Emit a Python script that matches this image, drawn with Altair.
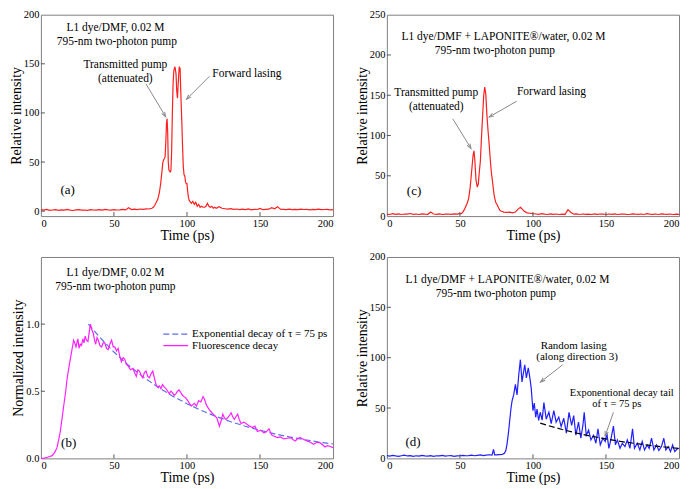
import math
import altair as alt
import pandas as pd

FONT = "Liberation Serif"
W, H = 293, 202
X_DOMAIN = [0, 200]
X_TICKS = [0, 50, 100, 150, 200]
GRAY = "#8a8a8a"

# ---------------- Panel (a): L1 dye/DMF, red ----------------
a_t_base = list(range(0, 76, 2))
a_v_base = [1.5, 1.0, 1.8, 0.8, 1.2, 1.6, 0.9, 1.4, 1.0, 1.8,
            1.1, 0.7, 1.3, 1.6, 1.0, 1.2, 0.8, 1.5, 1.2, 1.0,
            1.6, 1.1, 1.8, 1.3, 1.0, 1.5, 1.2, 1.4, 1.8, 1.3,
            3.5, 1.6, 2.0, 1.5, 2.2, 1.8, 2.4, 2.2]
a_t_peak = [76, 77, 78, 79, 80, 81, 82, 83, 83.5, 84,
            85, 85.5, 86, 86.4, 86.8, 87.2, 87.6, 88, 88.5, 89,
            89.5, 90, 90.5, 91, 91.8, 92.5, 93, 93.5, 94, 94.7,
            95.3, 96, 96.5, 97, 97.5, 98, 98.5, 99, 99.5, 100,
            100.5, 101, 101.5, 102, 103, 104, 105, 106, 107, 108,
            109, 110, 111, 112, 113, 114, 115, 116, 117, 118,
            119, 120, 122, 124, 126, 128, 130]
a_v_peak = [3, 4, 6, 9, 12, 18, 28, 42, 50, 52,
            55, 70, 90, 94, 80, 50, 42, 41, 40, 41,
            60, 100, 130, 143, 147, 140, 122, 115, 130, 147,
            145, 110, 90, 65, 45, 37, 36, 30, 28, 28,
            20, 14, 11, 10, 8, 10, 7, 9, 5, 7,
            4, 5, 4, 4, 5, 8, 5, 4, 5, 3,
            4, 3, 4.5, 3, 2.5, 2, 2.5]
a_t_tail = list(range(132, 201, 2))
a_v_tail = [1.8, 2.2, 1.5, 2.0, 1.6, 2.3, 1.4, 1.9, 1.7, 2.8,
            1.5, 1.8, 2.0, 3.6, 2.4, 4.6, 2.0, 1.8, 1.5, 2.0,
            1.6, 1.9, 1.5, 2.0, 1.7, 1.9, 1.4, 1.8, 1.6, 2.0,
            1.5, 1.7, 1.9, 1.4, 1.6]

# ---------------- Panel (c): L1 dye/DMF + LAPONITE, red ----------------
c_t_base = list(range(0, 50, 2))
c_v_base = [2.5, 2.0, 3.0, 2.2, 2.8, 2.0, 2.6, 2.4, 3.2, 2.2,
            2.6, 2.0, 2.8, 2.4, 2.2, 5.0, 2.6, 2.2, 2.8, 2.0,
            2.4, 2.6, 2.2, 2.8, 2.4]
c_t_peak = [50, 51, 52, 53, 54, 55, 56, 57, 58, 59,
            59.6, 60.2, 61, 61.9, 62.6, 63.3, 64, 64.7, 65.5, 66.3,
            67, 67.7, 68.5, 69.3, 70, 70.8, 71.5, 72.5, 73.5, 74.5,
            75.5, 76.5, 77.5, 78.5, 80, 82, 84, 86, 88, 89,
            90, 91.5, 93, 94, 96, 98, 100]
c_v_peak = [3, 3, 5, 8, 12, 16, 22, 35, 55, 75,
            81, 70, 45, 36, 40, 55, 68, 95, 123, 150,
            160, 152, 125, 105, 90, 70, 55, 40, 25, 17,
            14, 10, 7, 6, 5, 4.5, 5, 4, 5, 7,
            9, 11, 8, 6, 4, 3.5, 3]
c_t_tail = list(range(102, 201, 2))
c_v_tail = [2.6, 2.2, 3.0, 2.4, 2.0, 2.8, 2.2, 2.6, 2.0, 2.4,
            2.2, 8.0, 4.5, 2.4, 2.8, 2.0, 2.6, 2.2, 2.4, 2.0,
            2.8, 2.2, 2.6, 2.4, 2.0, 2.6, 2.2, 2.8, 2.0, 2.4,
            2.6, 2.2, 2.0, 2.8, 2.4, 2.2, 2.6, 2.0, 3.0, 2.4,
            2.2, 2.6, 2.0, 2.8, 2.4, 2.2, 2.6, 2.0, 2.4, 2.2]

# ---------------- Panel (b): fluorescence decay, magenta ----------------
b_t = [0, 2, 3.2, 5, 7.7, 9.5, 11, 12, 13.3, 14.5,
       15.6, 17, 17.9, 19.5, 20.8, 22.4, 23.2, 24, 25.3, 26.1,
       26.9, 27.8, 28.7, 29.5, 30.3, 31.2, 32.2, 33.2, 33.9, 34.8,
       35.9, 36.7, 37.5, 38.4, 39.3, 40.4, 41.6, 42.6, 43.8, 44.9,
       46.1, 47.2, 48.4, 49.5, 50.6, 51.8, 52.9, 54, 55.1, 56.3,
       57.4, 58.5, 59.6, 61.3, 63, 64.1, 65.3, 66.4, 67.5, 68.6,
       69.8, 70.9, 72, 73.1, 74.3, 75.4, 76.6, 77.7, 78.8, 80,
       81.1, 82.2, 83.3, 84.5, 85.6, 86.8, 87.9, 89, 90.1, 91.2,
       92.4, 93.5, 94.6, 95.8, 96.9, 98, 99.2, 100.5, 101.7, 103,
       104, 105.1, 106.5, 108, 109.5, 111, 112, 113.2, 114.3, 115.5,
       117, 118.9, 120.5, 122.2, 123.4, 124.5, 125.7, 126.8, 128.5, 130.2,
       131.3, 132.4, 133.5, 134.7, 135.8, 137, 139, 141.5, 143, 144.9,
       146.5, 148.2, 150.5, 152.7, 154.5, 156.2, 157.3, 158.4, 160, 161.8,
       164, 166.3, 168.5, 170.9, 172.5, 174.2, 176, 177.6, 180, 182.1,
       184.5, 186.6, 189, 191.2, 193, 194.5, 196, 197.9, 200]
b_v = [0.0, 0.0, 0.005, 0.01, 0.02, 0.045, 0.08, 0.13, 0.2, 0.3,
       0.39, 0.5, 0.59, 0.7, 0.78, 0.88, 0.86, 0.83, 0.89, 0.82,
       0.85, 0.84, 0.89, 0.86, 0.91, 0.88, 0.87, 0.95, 1.0, 0.96,
       0.93, 0.88, 0.85, 0.9, 0.88, 0.84, 0.83, 0.86, 0.86, 0.82,
       0.81, 0.85, 0.88, 0.83, 0.83, 0.8, 0.82, 0.76, 0.72, 0.75,
       0.74, 0.7, 0.69, 0.66, 0.67, 0.64, 0.61, 0.66, 0.65, 0.62,
       0.6, 0.64, 0.65, 0.61, 0.6, 0.63, 0.65, 0.6, 0.55, 0.53,
       0.54, 0.52, 0.55, 0.53, 0.52, 0.5, 0.48, 0.5, 0.49, 0.47,
       0.48, 0.5, 0.51, 0.49, 0.47, 0.46, 0.45, 0.43, 0.41, 0.39,
       0.4, 0.41, 0.39, 0.43, 0.42, 0.46, 0.44, 0.4, 0.38, 0.36,
       0.34, 0.32, 0.3, 0.24, 0.28, 0.33, 0.3, 0.29, 0.31, 0.34,
       0.31, 0.29, 0.31, 0.33, 0.29, 0.26, 0.27, 0.25, 0.24, 0.23,
       0.24, 0.2, 0.21, 0.19, 0.2, 0.22, 0.19, 0.17, 0.165, 0.155,
       0.16, 0.145, 0.15, 0.155, 0.14, 0.13, 0.15, 0.155, 0.14, 0.13,
       0.12, 0.105, 0.12, 0.115, 0.1, 0.085, 0.095, 0.09, 0.08]
be_t = [32.5, 40, 50, 60, 70, 80, 90, 100, 110, 120, 130, 140, 150, 160, 170, 180, 190, 200]
be_v = [1.0, 0.905, 0.792, 0.693, 0.607, 0.531, 0.465, 0.407, 0.356, 0.312,
        0.273, 0.239, 0.209, 0.183, 0.160, 0.140, 0.122, 0.107]

# ---------------- Panel (d): random lasing, blue ----------------
d_t_base = list(range(0, 73, 2))
d_v_base = [2.8, 2.2, 3.0, 2.4, 2.0, 2.6, 3.2, 2.4, 2.8, 2.0,
            2.6, 2.2, 3.0, 2.4, 2.2, 2.8, 2.0, 2.6, 2.4, 3.0,
            2.2, 2.6, 2.8, 2.0, 2.4, 2.6, 3.0, 2.6, 2.8, 3.2,
            2.6, 3.0, 3.4, 2.8, 3.2, 3.6, 3.2]
d_t_main = [73, 73.8, 75, 77, 79, 80.5, 81.5, 82.3, 83.2, 84.1,
            85, 85.7, 86.8, 88, 89.1, 90.3, 91.4, 92.5, 93.7, 94.4,
            95.5, 96.8, 97.7, 98.8, 100, 100.9, 101.9, 102.8, 103.9, 105,
            106.3, 107.5, 109.1, 110.9, 112.5, 114.3, 115.9, 117.7, 119.3, 121.1,
            122.9, 124.7, 126.5, 127.9, 129.4, 131.2, 132.8, 134.2, 135.1, 136.5,
            138.1, 139.7, 141.5, 143.1, 144.5, 146.1, 147.9, 149.5, 150.6, 152,
            153.3, 155.1, 156.5, 157.8, 159.6, 161.2, 163, 164.6, 166.4, 168.2,
            169.5, 171.4, 173.2, 174.8, 176.4, 178.2, 179.6, 181.2, 182.8, 184.6,
            186.2, 188, 189.6, 191, 192.6, 194.2, 195.6, 197.1, 198.5, 200]
d_v_main = [9, 3.5, 3.4, 3.8, 4, 5, 8, 14.7, 25, 37.6,
            50, 57, 63, 73.5, 63, 83, 98, 76, 86.6, 93,
            80, 90, 82, 70, 47.4, 55, 40.8, 49, 37.6, 45.8,
            38, 55.5, 39, 46, 34.6, 47.4, 36, 41, 31.6, 39.8,
            25, 45.7, 32.7, 42.5, 23, 36, 20, 32.7, 45.7, 23,
            28, 18.3, 23, 15, 29.4, 13.4, 20, 16.7, 24.8, 10,
            18.3, 32, 13.4, 18.3, 10, 15, 11.7, 18.3, 10, 29.4,
            10, 15, 8.4, 16.7, 8.4, 13.4, 10, 20, 8.4, 13.4,
            7.8, 11.7, 20, 8.4, 11.7, 6.7, 13.4, 6.7, 9, 10]
de_t = [105, 110, 120, 130, 140, 150, 160, 170, 180, 190, 200]
de_v = [35, 32.8, 28.7, 25.1, 22.0, 19.3, 16.8, 14.8, 12.9, 11.3, 9.9]

# ---------------- Annotations ----------------
a_texts = [("L1 dye/DMF, 0.02 M", 51, 186, 11.5), ("795-nm two-photon pump", 52, 172.5, 11.5),
           ("Transmitted pump", 57.8, 149, 11.5), ("(attenuated)", 57.8, 135, 11.5),
           ("Forward lasing", 141, 139.7, 11.5), ("(a)", 18.3, 21.8, 13)]
a_arrows = [(71.9, 129.6, 85.4, 96.2), (115.5, 137.4, 99.7, 113.9)]

c_texts = [("L1 dye/DMF + LAPONITE®/water, 0.02 M", 79.8, 222, 11.5),
           ("795-nm two-photon pump", 74, 205, 11.5),
           ("Transmitted pump", 33.8, 152.4, 11.5), ("(attenuated)", 33.8, 136, 11.5),
           ("Forward lasing", 112.7, 153.6, 11.5), ("(c)", 18.6, 30.7, 13)]
c_arrows = [(45.1, 120.8, 57.6, 84), (88.9, 142.6, 70, 123)]

b_texts = [("L1 dye/DMF, 0.02 M", 51, 1.38, 11.5), ("795-nm two-photon pump", 51, 1.277, 11.5),
           ("(b)", 19, 0.115, 13)]
b_legend_texts = [("Exponential decay of τ = 75 ps", 103.5, 0.925, 11), ("Fluorescence decay", 103.5, 0.84, 11)]
b_legend_x = [83.8, 100.8]
b_legend_y = [0.925, 0.84]

d_texts = [("L1 dye/DMF + LAPONITE®/water, 0.02 M", 82.5, 177, 11.5),
           ("795-nm two-photon pump", 74.6, 163.4, 11.5),
           ("Random lasing", 127.9, 112, 11), ("(along direction 3)", 130.2, 100.5, 11),
           ("Exponentional decay tail", 160.8, 64.7, 10.5), ("of  τ = 75 ps", 157.4, 53.6, 10.5),
           ("(d)", 17.9, 16.3, 13)]
d_arrows = [(120.4, 93, 105.2, 75.8), (155.1, 45.7, 149.4, 22.2)]

ARROW_HEAD = "M-0.5,1.4L0,0L0.5,1.4"


def panel(series, ydomain, yticks, ytitle, yfmt, texts, arrows, left_texts=None, legend=None):
    xs = alt.Scale(domain=X_DOMAIN, nice=False, zero=False)
    ys = alt.Scale(domain=ydomain, nice=False, zero=False)
    xax = alt.Axis(title="Time (ps)", values=X_TICKS)
    yax = alt.Axis(title=ytitle, values=yticks, format=yfmt)

    def X(f):
        return alt.X(f, type="quantitative", scale=xs, axis=xax)

    def Y(f):
        return alt.Y(f, type="quantitative", scale=ys, axis=yax)

    layers = []
    for t, v, color, dash in series:
        df = pd.DataFrame({"t": t, "v": v})
        kw = dict(color=color, strokeWidth=1.2)
        if dash:
            kw["strokeDash"] = dash
        layers.append(alt.Chart(df).mark_line(**kw).encode(x=X("t"), y=Y("v"), order="t:Q"))

    if legend:
        for (x0, x1, y, color, dash) in legend:
            df = pd.DataFrame({"x0": [x0], "x1": [x1], "y": [y]})
            kw = dict(color=color, strokeWidth=1.3)
            if dash:
                kw["strokeDash"] = dash
            layers.append(alt.Chart(df).mark_rule(**kw).encode(x=X("x0"), x2="x1", y=Y("y")))

    if arrows:
        sx = W / (X_DOMAIN[1] - X_DOMAIN[0])
        sy = H / (ydomain[1] - ydomain[0])
        rows = []
        for x0, y0, x1, y1 in arrows:
            ang = math.degrees(math.atan2((x1 - x0) * sx, (y1 - y0) * sy)) % 360
            rows.append({"x0": x0, "y0": y0, "x1": x1, "y1": y1, "ang": ang})
        adf = pd.DataFrame(rows)
        layers.append(alt.Chart(adf).mark_rule(color=GRAY, strokeWidth=1).encode(
            x=X("x0"), y=Y("y0"), x2="x1", y2="y1"))
        layers.append(alt.Chart(adf).mark_point(shape=ARROW_HEAD, filled=False, color=GRAY,
                                                strokeWidth=1, size=45, opacity=1).encode(
            x=X("x1"), y=Y("y1"), angle=alt.Angle("ang:Q", scale=None)))

    tdf = pd.DataFrame(texts, columns=["label", "x", "y", "fs"])
    layers.append(alt.Chart(tdf).mark_text(font=FONT, align="center", baseline="middle",
                                           color="black").encode(
        x=X("x"), y=Y("y"), text="label:N", size=alt.Size("fs:Q", scale=None)))
    if left_texts:
        ldf = pd.DataFrame(left_texts, columns=["label", "x", "y", "fs"])
        layers.append(alt.Chart(ldf).mark_text(font=FONT, align="left", baseline="middle",
                                               color="black").encode(
            x=X("x"), y=Y("y"), text="label:N", size=alt.Size("fs:Q", scale=None)))

    # inward ticks
    xt = pd.DataFrame({"t": X_TICKS[1:-1]})
    layers.append(alt.Chart(xt).mark_rule(color="#555", strokeWidth=1).encode(
        x=X("t"), y=alt.value(H), y2=alt.value(H - 4)))
    yt = pd.DataFrame({"v": [v for v in yticks if ydomain[0] < v < ydomain[1]]})
    layers.append(alt.Chart(yt).mark_rule(color="#555", strokeWidth=1).encode(
        y=Y("v"), x=alt.value(0), x2=alt.value(4)))

    return alt.layer(*layers).properties(width=W, height=H)


RED = "#ff1f1f"
pa = panel([(a_t_base + a_t_peak + a_t_tail, a_v_base + a_v_peak + a_v_tail, RED, None)],
           [-5, 200], [0, 50, 100, 150, 200], "Relative intensity", "d", a_texts, a_arrows)
pc = panel([(c_t_base + c_t_peak + c_t_tail, c_v_base + c_v_peak + c_v_tail, RED, None)],
           [0, 250], [0, 50, 100, 150, 200, 250], "Relative intensity", "d", c_texts, c_arrows)
pb = panel([(be_t, be_v, "#5b6fe6", [6, 3]), (b_t, b_v, "#ff22ff", None)],
           [0, 1.5], [0, 0.5, 1.0], "Normalized intensity", ".1f", b_texts, None,
           left_texts=b_legend_texts,
           legend=[(b_legend_x[0], b_legend_x[1], b_legend_y[0], "#5b6fe6", [6, 3]),
                   (b_legend_x[0], b_legend_x[1], b_legend_y[1], "#ff22ff", None)])
pd_ = panel([(d_t_base + d_t_main, d_v_base + d_v_main, "#1f1fff", None), (de_t, de_v, "black", [6, 3])],
            [0, 200], [0, 50, 100, 150, 200], "Relative intensity", "d", d_texts, d_arrows)

chart = alt.concat(pa, pc, pb, pd_, columns=2, spacing={"row": 8, "column": 18}).properties(
    padding=0
).configure(font=FONT, background="white").configure_view(
    stroke="#808080", strokeWidth=1
).configure_axis(
    labelFont=FONT, titleFont=FONT, labelFontSize=10.5, titleFontSize=14, titleFontWeight="normal",
    ticks=False, domain=False, grid=False, labelColor="black", titleColor="black",
    labelPadding=2, titlePadding=0
)

chart.save("out.html", embed_options={"renderer": "svg", "actions": False})
